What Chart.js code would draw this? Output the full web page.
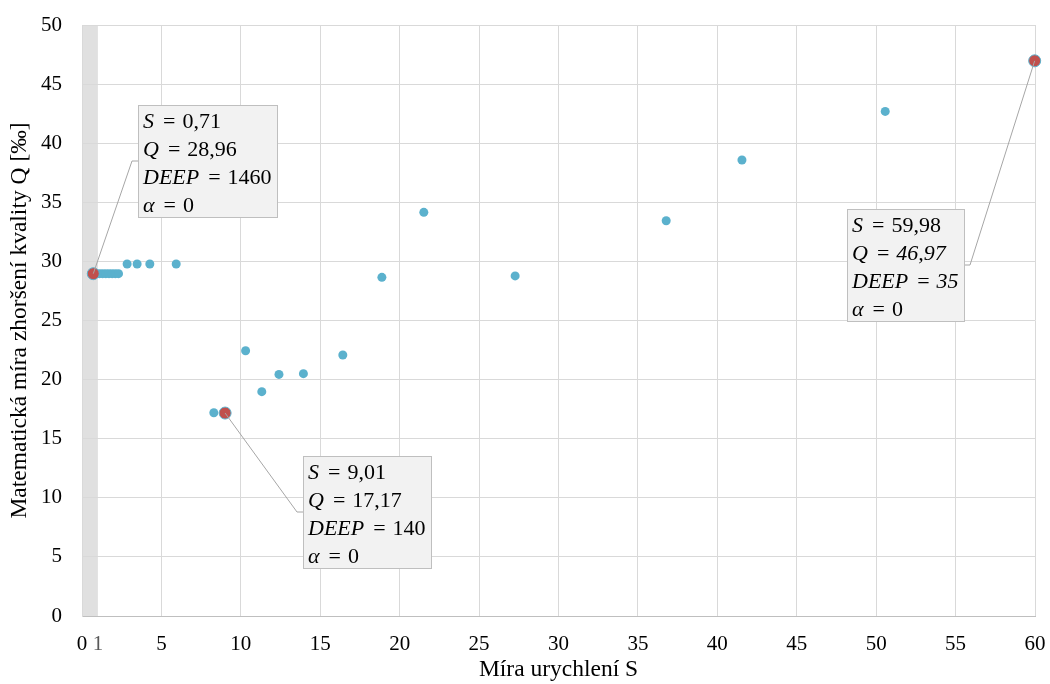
<!DOCTYPE html>
<html>
<head>
<meta charset="utf-8">
<script src="https://cdn.jsdelivr.net/npm/chart.js@4/dist/chart.umd.min.js"></script>
<style>
    html, body { margin: 0; padding: 0; background: #fff; }
    #wrap { width: 1050px; height: 684px; }
</style>
</head>
<body>
<div id="wrap"><canvas id="chart" width="1050" height="684"></canvas></div>
<script>
// Míra urychlení S (x) a míra zhoršení kvality Q (y)
const sValues = [0.71, 0.9, 1.1, 1.3, 1.5, 1.7, 1.9, 2.1, 2.3,
    2.84, 3.47, 4.27, 5.93,
    8.3, 9.01, 10.3, 11.32, 12.4, 13.94, 16.42,
    18.88, 21.52, 27.27, 36.78, 41.55, 50.57, 59.98];
const qValues = [28.96, 28.96, 28.96, 28.96, 28.96, 28.96, 28.96, 28.96, 28.96,
    29.78, 29.78, 29.78, 29.78,
    17.2, 17.17, 22.44, 18.98, 20.44, 20.5, 22.08,
    28.65, 34.15, 28.77, 33.44, 38.58, 42.69, 46.97];

// zvýrazněné body
const highlightS = [0.71, 9.01, 59.98];
const highlightQ = [28.96, 17.17, 46.97];

// popisky: [proměnná, hodnota, celé kurzívou], levý horní roh rámečku (v jednotkách os)
const labelLines = [
    [['S', '0,71'], ['Q', '28,96'], ['DEEP', '1460'], ['α', '0']],
    [['S', '9,01'], ['Q', '17,17'], ['DEEP', '140'], ['α', '0']],
    [['S', '59,98'], ['Q', '46,97', true], ['DEEP', '35', true], ['α', '0']]
];
const labelBoxS = [3.55, 13.9, 48.16];
const labelBoxQ = [43.26, 13.5, 34.46];
const labelSide = ['left', 'left', 'right'];

const xTicks = [0, 1, 5, 10, 15, 20, 25, 30, 35, 40, 45, 50, 55, 60];
const bandRange = [0, 1];

const COLORS = {
    point: 'rgb(91,177,205)',
    highlight: '#C0504D',
    grid: '#d9d9d9',
    band: '#e0e0e0',
    boxFill: '#f2f2f2',
    boxBorder: '#bfbfbf',
    leader: '#a6a6a6',
    text: '#000000'
};
const FONT = '"Liberation Serif", "Times New Roman", serif';
const LABEL_SIZE = 22;

const bandPlugin = {
    id: 'band',
    beforeDraw(chart) {
        const { ctx, chartArea, scales } = chart;
        const x0 = scales.x.getPixelForValue(bandRange[0]);
        const x1 = scales.x.getPixelForValue(bandRange[1]);
        ctx.save();
        ctx.fillStyle = COLORS.band;
        ctx.fillRect(x0, chartArea.top, x1 - x0, chartArea.bottom - chartArea.top);
        ctx.restore();
    }
};

// rozložení jednoho řádku: proměnná, mezera, "=", mezera, hodnota
function layoutLine(ctx, [v, val, allItalic]) {
    const parts = [];
    let x = 0;
    ctx.font = 'italic ' + LABEL_SIZE + 'px ' + FONT;
    parts.push({ text: v, font: ctx.font, x });
    x += ctx.measureText(v).width + 9;
    ctx.font = LABEL_SIZE + 'px ' + FONT;
    parts.push({ text: '=', font: ctx.font, x });
    x += ctx.measureText('=').width + 7;
    ctx.font = (allItalic ? 'italic ' : '') + LABEL_SIZE + 'px ' + FONT;
    parts.push({ text: val, font: ctx.font, x });
    x += ctx.measureText(val).width;
    return { parts, width: x };
}

const labelPlugin = {
    id: 'calloutLabels',
    afterDatasetsDraw(chart) {
        const { ctx, scales } = chart;
        const lineH = 28;
        const pad = 5;
        ctx.save();
        ctx.textBaseline = 'alphabetic';
        labelLines.forEach((lines, i) => {
            const laid = lines.map(l => layoutLine(ctx, l));
            const maxW = Math.max(...laid.map(l => l.width));
            const bx = Math.round(scales.x.getPixelForValue(labelBoxS[i]));
            const by = Math.round(scales.y.getPixelForValue(labelBoxQ[i]));
            const bw = Math.round(maxW + pad * 2);
            const bh = lines.length * lineH;
            const px = scales.x.getPixelForValue(highlightS[i]);
            const py = scales.y.getPixelForValue(highlightQ[i]);

            // vodicí čára
            const midY = by + bh / 2;
            const edgeX = labelSide[i] === 'left' ? bx : bx + bw;
            const elbowX = labelSide[i] === 'left' ? edgeX - 6 : edgeX + 6;
            ctx.strokeStyle = COLORS.leader;
            ctx.lineWidth = 1;
            ctx.beginPath();
            ctx.moveTo(px, py);
            ctx.lineTo(elbowX, midY);
            ctx.lineTo(edgeX, midY);
            ctx.stroke();

            // rámeček
            ctx.fillStyle = COLORS.boxFill;
            ctx.fillRect(bx, by, bw, bh);
            ctx.strokeStyle = COLORS.boxBorder;
            ctx.strokeRect(bx + 0.5, by + 0.5, bw, bh);

            // text
            ctx.fillStyle = COLORS.text;
            laid.forEach((l, j) => {
                const ty = by + 23 + j * lineH;
                l.parts.forEach(p => {
                    ctx.font = p.font;
                    ctx.fillText(p.text, bx + pad + p.x, ty);
                });
            });
        });
        ctx.restore();
    }
};

const ctx = document.getElementById('chart').getContext('2d');

new Chart(ctx, {
    type: 'scatter',
    data: {
        datasets: [
            {
                data: highlightS.map((s, i) => ({ x: s, y: highlightQ[i] })),
                backgroundColor: COLORS.highlight,
                borderColor: COLORS.point,
                borderWidth: 1,
                pointRadius: 6,
                order: 0
            },
            {
                data: sValues.map((s, i) => ({ x: s, y: qValues[i] })),
                backgroundColor: COLORS.point,
                borderColor: COLORS.point,
                borderWidth: 0,
                pointRadius: 4.5,
                order: 1
            }
        ]
    },
    options: {
        responsive: false,
        animation: false,
        clip: false,
        layout: { padding: { top: 25, right: 15, left: 0, bottom: 0 } },
        plugins: {
            legend: { display: false },
            tooltip: { enabled: false }
        },
        scales: {
            x: {
                type: 'linear',
                min: 0,
                max: 60,
                afterBuildTicks: scale => {
                    scale.ticks = xTicks.map(v => ({ value: v }));
                },
                afterFit: scale => {
                    scale.height = 68;
                    scale.paddingLeft = 0;
                    scale.paddingRight = 0;
                },
                ticks: {
                    autoSkip: false,
                    maxRotation: 0,
                    padding: 16,
                    font: { family: FONT, size: 21 },
                    color: ctx => ctx.tick && ctx.tick.value === 1 ? '#595959' : COLORS.text,
                    callback: value => String(value)
                },
                grid: {
                    color: ctx => ctx.tick && ctx.tick.value === 1 ? 'rgba(0,0,0,0)' : COLORS.grid,
                    drawTicks: false
                },
                border: { color: '#bfbfbf' },
                title: {
                    display: true,
                    text: 'Míra urychlení S',
                    font: { family: FONT, size: 23.5 },
                    color: COLORS.text,
                    padding: { top: 0, bottom: 0 }
                }
            },
            y: {
                min: 0,
                max: 50,
                afterFit: scale => {
                    scale.width = 82;
                    scale.paddingTop = 0;
                    scale.paddingBottom = 0;
                },
                ticks: {
                    stepSize: 5,
                    padding: 20,
                    font: { family: FONT, size: 21 },
                    color: COLORS.text
                },
                grid: { color: COLORS.grid, drawTicks: false },
                border: { color: COLORS.grid },
                title: {
                    display: true,
                    text: 'Matematická míra zhoršení kvality Q [‰]',
                    font: { family: FONT, size: 23.5 },
                    color: COLORS.text,
                    padding: { top: 6, bottom: 0 }
                }
            }
        }
    },
    plugins: [bandPlugin, labelPlugin]
});
</script>
</body>
</html>
